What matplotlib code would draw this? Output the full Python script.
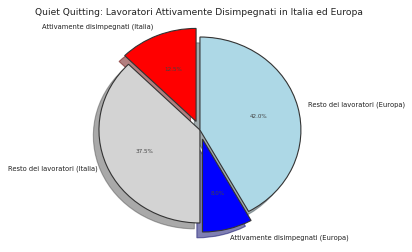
import matplotlib
matplotlib.use('Agg')
from matplotlib import pyplot as plt

labels = ['Attivamente disimpegnati (Italia)', 'Resto dei lavoratori (Italia)',
          'Attivamente disimpegnati (Europa)', 'Resto dei lavoratori (Europa)']
values = [12.5, 37.5, 8.0, 42.0]
colors = ['red', 'lightgray', 'blue', 'lightblue']
explode = [0.1, 0, 0.1, 0]

fig = plt.figure(figsize=(4.12, 2.52), dpi=100)
ax = fig.add_axes([0, 0, 1, 1])

wedges, texts, autotexts = ax.pie(values, labels=labels, colors=colors, explode=explode,
                                  autopct='%1.1f%%', startangle=90,
                                  shadow={'ox': -0.04, 'oy': -0.045, 'shade': 0.6},
                                  wedgeprops={'edgecolor': '#333333', 'linewidth': 0.8},
                                  textprops={'fontsize': 4.9, 'color': '#222222'})
for t in autotexts:
    t.set_fontsize(4.1)
    t.set_color('#444444')

# l'immagine originale è leggermente schiacciata in verticale
ax.set_aspect('auto')
ax.set_xlim(-1.98, 2.10)
ax.set_ylim(-1.312, 1.398)
ax.axis('off')

fig.text(0.483, 0.952, 'Quiet Quitting: Lavoratori Attivamente Disimpegnati in Italia ed Europa',
         ha='center', va='center', fontsize=6.6, color='#222222')

fig.savefig('out.png', dpi=100)
